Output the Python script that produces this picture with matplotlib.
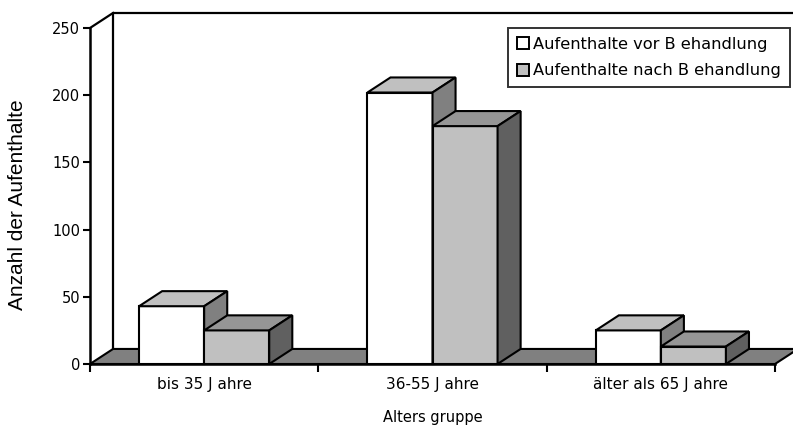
import matplotlib
matplotlib.use("Agg")
import matplotlib.pyplot as plt
from matplotlib.patches import Polygon, Patch

# ── Data ──────────────────────────────────────────
categories = ["bis 35 J ahre", "36-55 J ahre", "älter als 65 J ahre"]
vor_behandlung = [43, 202, 25]
nach_behandlung = [25, 177, 13]
series_names = ["Aufenthalte vor B ehandlung", "Aufenthalte nach B ehandlung"]
yticks = [0, 50, 100, 150, 200, 250]

# ── Style ─────────────────────────────────────────
FRONT = ["#ffffff", "#c0c0c0"]
TOP = ["#c0c0c0", "#969696"]
SIDE = ["#808080", "#606060"]
FLOOR = "#808080"
BAR_W = 0.285
DX, DY = 0.101, 11.2   # depth offset in data units
EW = 1.5

fig = plt.figure(figsize=(7.93, 4.28), dpi=100)
ax = fig.add_axes([90 / 793, 64 / 428, 685 / 793, 336 / 428])
ax.set_xlim(0, len(categories))
ax.set_ylim(0, 250)
ax.patch.set_visible(False)

def poly(pts, fc, z):
    ax.add_patch(Polygon(pts, closed=True, facecolor=fc, edgecolor="black",
                         linewidth=EW, zorder=z, clip_on=False, joinstyle="miter"))

n = len(categories)
ymax = 250
# back wall + left wall
ax.plot([DX, DX, n + DX + 0.2], [DY, ymax + DY, ymax + DY], color="black",
        lw=1.6, zorder=1, clip_on=False)
ax.plot([0, DX], [ymax, ymax + DY], color="black", lw=1.6, zorder=1, clip_on=False)
# floor
poly([(0, 0), (n, 0), (n + DX, DY), (DX, DY)], FLOOR, 2)

# bars (3D look)
z = 3
for i in range(n):
    for k, vals in enumerate([vor_behandlung, nach_behandlung]):
        x0 = i + 0.5 - BAR_W + k * BAR_W
        x1 = x0 + BAR_W
        v = vals[i]
        poly([(x0, 0), (x1, 0), (x1, v), (x0, v)], FRONT[k], z)
        poly([(x0, v), (x1, v), (x1 + DX, v + DY), (x0 + DX, v + DY)], TOP[k], z)
        poly([(x1, 0), (x1 + DX, DY), (x1 + DX, v + DY), (x1, v)], SIDE[k], z)
        z += 1

# axes
for s in ["top", "right"]:
    ax.spines[s].set_visible(False)
for s in ["left", "bottom"]:
    ax.spines[s].set_linewidth(1.8)
    ax.spines[s].set_zorder(20)

ax.set_yticks(yticks)
ax.set_yticklabels([str(t) for t in yticks], fontsize=10.5, family="DejaVu Sans")
ax.tick_params(axis="y", length=5, width=1.5, pad=2)

ax.set_xticks(range(n + 1))
ax.set_xticklabels([])
ax.set_xticks([i + 0.5 for i in range(n)], minor=True)
ax.set_xticklabels(categories, minor=True, fontsize=11, family="DejaVu Sans")
ax.tick_params(axis="x", which="major", length=6, width=1.5)
ax.tick_params(axis="x", which="minor", length=0, pad=9)

ax.set_xlabel("Alters gruppe", fontsize=10.5, family="DejaVu Sans", labelpad=13)
fig.text(18 / 793, 1 - 205 / 428, "Anzahl der Aufenthalte", rotation=90,
         ha="center", va="center", fontsize=15, family="Liberation Sans")

# legend
handles = [Patch(facecolor=FRONT[k], edgecolor="black", linewidth=1.4)
           for k in range(2)]
leg = fig.legend(handles, series_names, loc="upper right",
                 bbox_to_anchor=(790 / 793, 1 - 28 / 428),
                 fontsize=11.7, frameon=True, fancybox=False,
                 edgecolor="black", handlelength=0.75, handleheight=0.75,
                 handletextpad=0.25, borderpad=0.55, labelspacing=0.7,
                 borderaxespad=0)
leg.get_frame().set_linewidth(1.4)

fig.savefig("out.png", dpi=100)
